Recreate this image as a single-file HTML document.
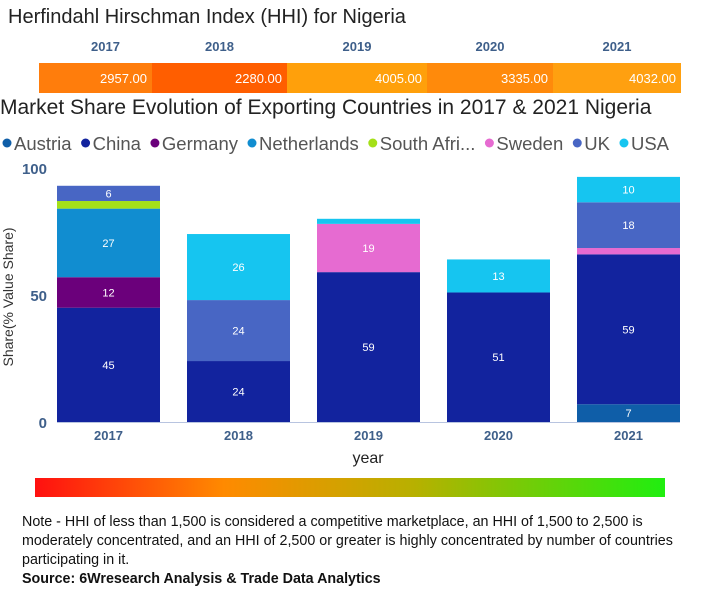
<!DOCTYPE html>
<html><head><meta charset="utf-8"><style>
body{margin:0;width:721px;height:600px;background:#fff;font-family:"Liberation Sans",sans-serif;overflow:hidden;position:relative}
.abs{position:absolute}
</style></head><body>
<div class="abs" style="left:8px;top:6px;font-size:20px;color:#222">Herfindahl Hirschman Index (HHI) for Nigeria</div>
<svg class="abs" style="left:0;top:0" width="721" height="600" id="svg"></svg>
<div class="abs" style="left:0;top:96px;font-size:21px;color:#222">Market Share Evolution of Exporting Countries in 2017 &amp; 2021 Nigeria</div>
<div class="abs" style="left:22px;top:513px;width:662px;font-size:14.3px;line-height:19px;color:#111">Note - HHI of less than 1,500 is considered a competitive marketplace, an HHI of 1,500 to 2,500 is moderately concentrated, and an HHI of 2,500 or greater is highly concentrated by number of countries participating in it.<br><b>Source: 6Wresearch Analysis &amp; Trade Data Analytics</b></div>
<script>
const years=["2017","2018","2019","2020","2021"];
const hhi=[2957,2280,4005,3335,4032];
const countries=["Austria","China","Germany","Netherlands","South Afri...","Sweden","UK","USA"];
const colors=["#0f5ea8","#12239e","#6b007b","#118dd0","#a4e018","#e66bd1","#4866c4","#16c5f0"];
const austria=[0,0,0,0,7];
const china=[45,24,59,51,59];
const germany=[12,0,0,0,0];
const netherlands=[27,0,0,0,0];
const southAfrica=[3,0,0,0,0];
const sweden=[0,0,19,0,2.5];
const uk=[6,24,0,0,18];
const usa=[0,26,2,13,10];
const yTicks=[0,50,100];
const series=[austria,china,germany,netherlands,southAfrica,sweden,uk,usa];
const NS="http://www.w3.org/2000/svg",svg=document.getElementById('svg');
function mk(t,a,txt){const e=document.createElementNS(NS,t);for(const k in a)e.setAttribute(k,a[k]);if(txt!=null)e.textContent=txt;svg.appendChild(e);return e;}
const hy=63,hh=30;
const hEdges=[39,152,287,427,553,681];
const hCols=["#ff7d0c","#ff5e00","#ffa00b","#ff8a0b","#ffa010"];
for(let i=0;i<years.length;i++){
 const r=mk('rect',{x:hEdges[i],y:hy,width:hEdges[i+1]-hEdges[i],height:hh,fill:hCols[i]});
 
 const t=mk('text',{x:hEdges[i+1]-5,y:hy+20,'text-anchor':'end','font-size':13,fill:'#fff'},hhi[i].toFixed(2));
 
 const y=mk('text',{x:(hEdges[i]+hEdges[i+1])/2+(i==0?10:0),y:51,'text-anchor':'middle','font-size':13,'font-weight':'bold',fill:'#3e5f8a'},years[i]);
 
}
let lx=2;
countries.forEach((c,i)=>{
 const d=mk('circle',{cx:lx+5,cy:143,r:4.5,fill:colors[i]});
 
 const t=mk('text',{x:lx+12,y:150,'font-size':18.5,fill:'#555'},c);
 
 lx+=12+t.getComputedTextLength()+9;
});
const y0=422,sc=2.54;
const yS=v=>y0-v*sc;
const bx0=57,bstep=130,bw=103;
const xS=i=>bx0+i*bstep;
yTicks.forEach(v=>{const t=mk('text',{x:47,y:yS(v)+6,'text-anchor':'end','font-size':15,'font-weight':'bold',fill:'#3e5f8a'},v);
 });
const yt=mk('text',{x:0,y:0,transform:'translate(13,297) rotate(-90)','text-anchor':'middle','font-size':14,fill:'#333'},'Share(% Value Share)');

years.forEach((yr,i)=>{
 let acc=0;
 series.forEach((s,k)=>{
  const v=s[i];if(!v)return;
  const r=mk('rect',{x:xS(i),y:yS(acc+v),width:bw,height:v*sc,fill:colors[k]});
  
  if(v>=5){const t=mk('text',{x:xS(i)+bw/2,y:yS(acc+v/2)+4,'text-anchor':'middle','font-size':11,fill:'#fff'},Math.round(v));
   }
  acc+=v;
 });
 const t=mk('text',{x:xS(i)+bw/2,y:440,'text-anchor':'middle','font-size':13,'font-weight':'bold',fill:'#3e5f8a'},yr);
 
});
mk('line',{x1:57,x2:680,y1:y0+0.5,y2:y0+0.5,stroke:'#b8c4e0','stroke-width':1});
const xt=mk('text',{x:368,y:463,'text-anchor':'middle','font-size':16,fill:'#222'},'year');

const defs=mk('defs',{});
defs.innerHTML='<linearGradient id="g"><stop offset="0" stop-color="#ff1010"/><stop offset="0.3" stop-color="#ff8a00"/><stop offset="0.6" stop-color="#b8b000"/><stop offset="1" stop-color="#20ee10"/></linearGradient>';
const gb=mk('rect',{x:35,y:478,width:630,height:19,fill:'url(#g)'});

</script>
</body></html>
